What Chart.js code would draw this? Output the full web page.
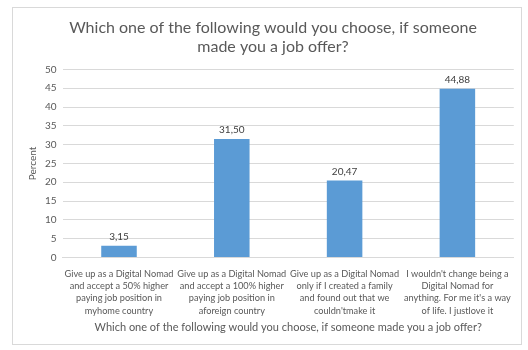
<!DOCTYPE html>
<html>
<head>
<meta charset="utf-8">
<script src="https://cdn.jsdelivr.net/npm/chart.js@4"></script>
<style>
  body { margin: 0; background: #fff; }
  #frame {
    position: absolute; left: 12px; top: 7px;
    width: 508px; height: 336px;
    border: 1px solid #d9d9d9; background: #fff;
  }
</style>
</head>
<body>
<div id="frame"><canvas id="myChart" width="508" height="336"></canvas></div>
<script>
var categories = [
    ["Give up as a Digital Nomad", "and accept a 50% higher", "paying job position in", "myhome country"],
    ["Give up as a Digital Nomad", "and accept a 100% higher", "paying job position in", "aforeign country"],
    ["Give up as a Digital Nomad", "only if I created a family", "and found out that we", "couldn'tmake it"],
    ["I wouldn't change being a", "Digital Nomad for", "anything. For me it's a way", "of life. I justlove it"]
];
var percentValues = [3.15, 31.50, 20.47, 44.88];
var yTicks = [0, 5, 10, 15, 20, 25, 30, 35, 40, 45, 50];

var fontFamily = "Lato, 'Open Sans', sans-serif";

// draws the value above each bar, with a comma decimal
var barLabels = {
    id: "barLabels",
    afterDatasetsDraw: function (chart) {
        let ctx = chart.ctx;
        let meta = chart.getDatasetMeta(0);
        ctx.save();
        ctx.font = "10px " + fontFamily;
        ctx.fillStyle = "#404040";
        ctx.textAlign = "center";
        ctx.textBaseline = "bottom";
        meta.data.forEach(function (bar, i) {
            let txt = percentValues[i].toFixed(2).replace(".", ",");
            ctx.fillText(txt, bar.x, bar.y - 4);
        });
        ctx.restore();
    }
};

new Chart(document.getElementById("myChart"), {
    type: "bar",
    data: {
        labels: categories,
        datasets: [{
            label: "Percent",
            backgroundColor: "#5b9bd5",
            data: percentValues,
            barPercentage: 0.63,
            categoryPercentage: 0.5
        }]
    },
    options: {
        responsive: false,
        animation: false,
        layout: { padding: { left: 14, right: 2, top: 0, bottom: 10 } },
        plugins: {
            legend: { display: false },
            tooltip: { enabled: false },
            title: {
                display: true,
                text: ["Which one of the following would you choose, if someone", "made you a job offer?"],
                color: "#595959",
                font: { family: fontFamily, size: 16, weight: "normal" },
                padding: { top: 10, bottom: 13 },
                lineHeight: 1.25
            }
        },
        scales: {
            x: {
                grid: { display: false, drawTicks: false },
                border: { color: "#d9d9d9" },
                ticks: {
                    autoSkip: false,
                    maxRotation: 0,
                    color: "#595959",
                    font: { family: fontFamily, size: 9.2, lineHeight: 1.34 },
                    padding: 10
                },
                title: {
                    display: true,
                    text: "Which one of the following would you choose, if someone made you a job offer?",
                    color: "#595959",
                    font: { family: fontFamily, size: 11 },
                    padding: { top: -6, bottom: 0 }
                }
            },
            y: {
                min: 0,
                max: 50,
                afterBuildTicks: function (axis) {
                    axis.ticks = yTicks.map(function (v) { return { value: v }; });
                },
                grid: { color: "#d9d9d9", drawTicks: false },
                border: { display: false },
                ticks: {
                    color: "#595959",
                    font: { family: fontFamily, size: 10 },
                    padding: 6
                },
                title: {
                    display: true,
                    text: "Percent",
                    color: "#595959",
                    font: { family: fontFamily, size: 10 },
                    padding: 0
                }
            }
        }
    },
    plugins: [barLabels]
});
</script>
</body>
</html>
